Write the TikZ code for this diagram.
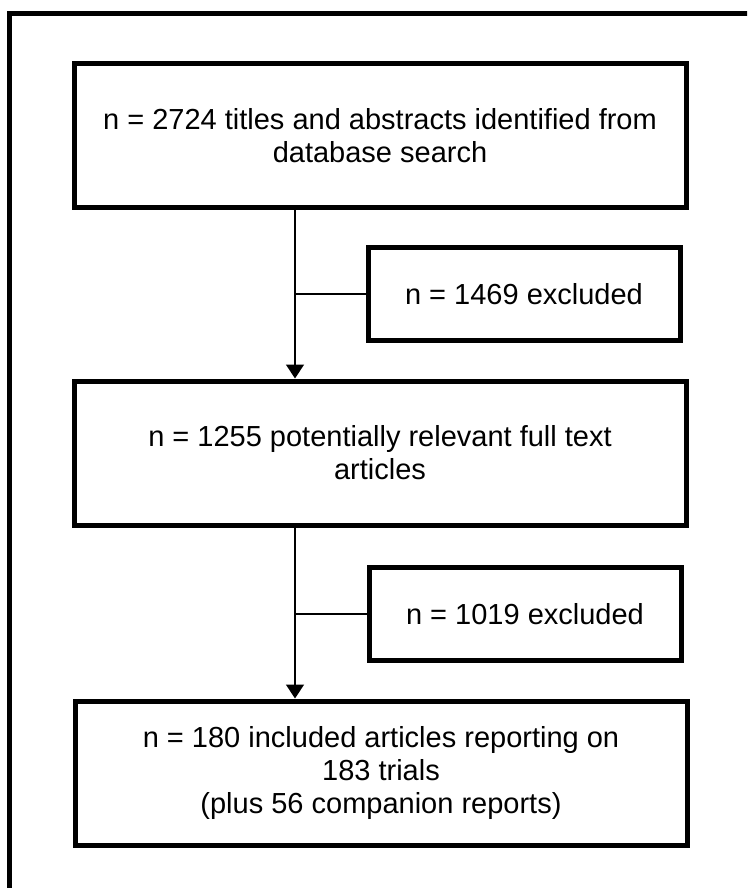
\documentclass[tikz,border=0pt]{standalone}
\usepackage{fontspec}
\setmainfont{Liberation Sans}
\usetikzlibrary{arrows.meta}
\tikzset{
  stage/.style={draw, line width=5pt, minimum width=612pt, minimum height=144pt, align=center, inner sep=0pt},
  drop/.style={draw, line width=5pt, minimum width=312pt, minimum height=93pt, align=center, inner sep=0pt},
  flow/.style={line width=1.5pt}
}
\begin{document}
\begin{tikzpicture}[x=1pt, y=-1pt, font=\fontsize{29}{33}\selectfont]
\clip (0,0) rectangle (747,888);
\draw[line width=5pt](9.5,13.5) rectangle (800,950);
\node[stage] (found) at (380,135.5) {n = 2724 titles and abstracts identified from\\database search};
\node[drop] (out1) at (524,294) {n = 1469 excluded};
\node[stage] (full) at (380,453) {n = 1255 potentially relevant full text\\articles};
\node[drop] (out2) at (525,614) {n = 1019 excluded};
\node[stage] (incl) at (381,773) {n = 180 included articles reporting on\\183 trials\\(plus 56 companion reports)};
\coordinate (trunk) at (295,0);
\draw[flow, -{Triangle[width=18pt, length=14pt]}](found.south -| trunk) -- (full.north -| trunk);
\draw[flow](out1.west) -- (out1.west -| trunk);
\draw[flow, -{Triangle[width=18pt, length=14pt]}](full.south -| trunk) -- (incl.north -| trunk);
\draw[flow](out2.west) -- (out2.west -| trunk);
\end{tikzpicture}
\end{document}
